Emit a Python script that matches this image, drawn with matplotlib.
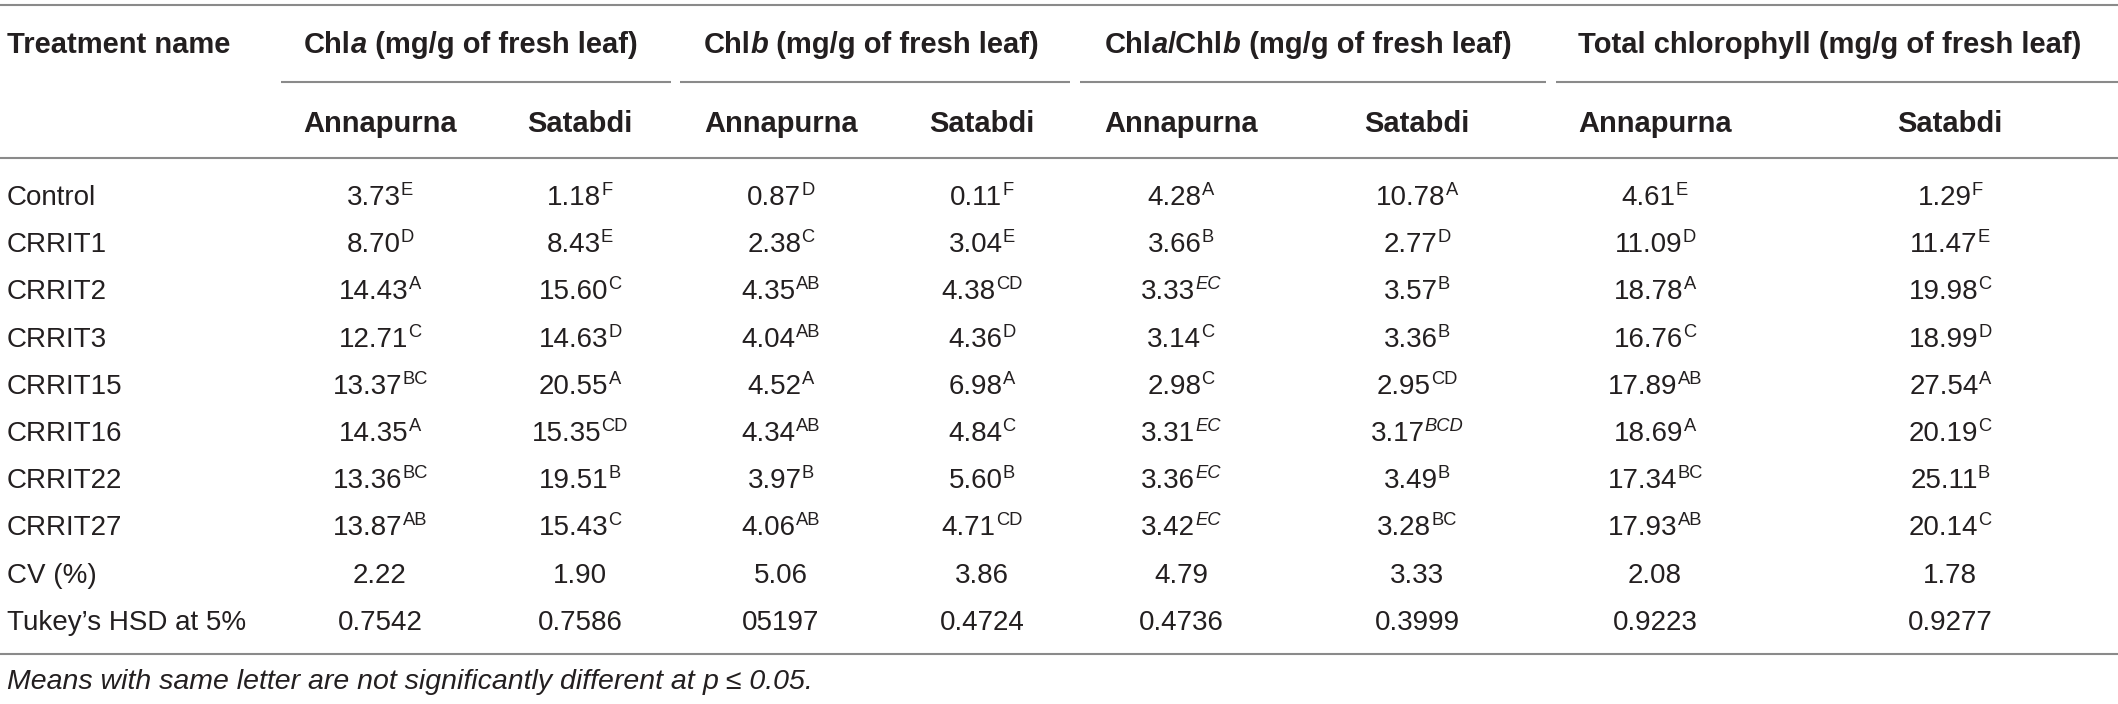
import matplotlib
matplotlib.use("Agg")
import matplotlib.pyplot as plt

# ---------------- data ----------------
treatments = ["Control", "CRRIT1", "CRRIT2", "CRRIT3", "CRRIT15", "CRRIT16",
              "CRRIT22", "CRRIT27", "CV (%)", "Tukey\u2019s HSD at 5%"]
varieties = ["Annapurna", "Satabdi"]

chla_annapurna = ["3.73", "8.70", "14.43", "12.71", "13.37", "14.35", "13.36", "13.87", "2.22", "0.7542"]
chla_annapurna_letters = ["E", "D", "A", "C", "BC", "A", "BC", "AB", "", ""]
chla_satabdi = ["1.18", "8.43", "15.60", "14.63", "20.55", "15.35", "19.51", "15.43", "1.90", "0.7586"]
chla_satabdi_letters = ["F", "E", "C", "D", "A", "CD", "B", "C", "", ""]

chlb_annapurna = ["0.87", "2.38", "4.35", "4.04", "4.52", "4.34", "3.97", "4.06", "5.06", "05197"]
chlb_annapurna_letters = ["D", "C", "AB", "AB", "A", "AB", "B", "AB", "", ""]
chlb_satabdi = ["0.11", "3.04", "4.38", "4.36", "6.98", "4.84", "5.60", "4.71", "3.86", "0.4724"]
chlb_satabdi_letters = ["F", "E", "CD", "D", "A", "C", "B", "CD", "", ""]

ratio_annapurna = ["4.28", "3.66", "3.33", "3.14", "2.98", "3.31", "3.36", "3.42", "4.79", "0.4736"]
ratio_annapurna_letters = ["A", "B", "EC", "C", "C", "EC", "EC", "EC", "", ""]
ratio_annapurna_italic = [False, False, True, False, False, True, True, True, False, False]
ratio_satabdi = ["10.78", "2.77", "3.57", "3.36", "2.95", "3.17", "3.49", "3.28", "3.33", "0.3999"]
ratio_satabdi_letters = ["A", "D", "B", "B", "CD", "BCD", "B", "BC", "", ""]
ratio_satabdi_italic = [False, False, False, False, False, True, False, False, False, False]

total_annapurna = ["4.61", "11.09", "18.78", "16.76", "17.89", "18.69", "17.34", "17.93", "2.08", "0.9223"]
total_annapurna_letters = ["E", "D", "A", "C", "AB", "A", "BC", "AB", "", ""]
total_satabdi = ["1.29", "11.47", "19.98", "18.99", "27.54", "20.19", "25.11", "20.14", "1.78", "0.9277"]
total_satabdi_letters = ["F", "E", "C", "D", "A", "C", "B", "C", "", ""]

footnote = "Means with same letter are not significantly different at "
no_italic = [False] * len(treatments)

columns = [
    (chla_annapurna, chla_annapurna_letters, no_italic),
    (chla_satabdi, chla_satabdi_letters, no_italic),
    (chlb_annapurna, chlb_annapurna_letters, no_italic),
    (chlb_satabdi, chlb_satabdi_letters, no_italic),
    (ratio_annapurna, ratio_annapurna_letters, ratio_annapurna_italic),
    (ratio_satabdi, ratio_satabdi_letters, ratio_satabdi_italic),
    (total_annapurna, total_annapurna_letters, no_italic),
    (total_satabdi, total_satabdi_letters, no_italic),
]

# ---------------- layout / style ----------------
W, H = 2118, 704
FONT = "Liberation Sans"
TXT = "#231f20"
LINE = "#8a8a8a"
FS = 20.0          # body
FSH = 21.0         # bold headers
FSF = 20.5         # footnote
SUP = FS * 0.66
col_x = [380, 580, 781, 982, 1181, 1417, 1655, 1950]
group_x = [471, 871, 1308, 1830]
group_lines = [(281, 671), (680, 1070), (1080, 1546), (1556, W)]
y_head, y_sub = 43, 122
row_y0, row_dy = 195, 47.2
y_foot = 679

plt.rcParams["font.family"] = [FONT, "DejaVu Sans"]
fig = plt.figure(figsize=(W / 100, H / 100), dpi=100)
ax = fig.add_axes([0, 0, 1, 1])
ax.set_xlim(0, W)
ax.set_ylim(H, 0)
ax.axis("off")
renderer = fig.canvas.get_renderer()


def cap_px(fs):
    return 0.716 * fs * 100 / 72.0


def put(parts, x, yc, fs, ha="center"):
    objs = []
    total = 0.0
    for s, props, rise in parts:
        t = ax.text(0, 0, s, va="baseline", ha="left", color=TXT, **props)
        w = t.get_window_extent(renderer).width
        objs.append((t, rise, w))
        total += w
    x0 = x - total / 2.0 if ha == "center" else x
    yb = yc + cap_px(fs) / 2.0
    for t, rise, w in objs:
        t.set_position((x0, yb - rise))
        x0 += w


B = dict(fontsize=FSH, fontweight="bold")
BI = dict(fontsize=FSH, fontweight="bold", fontstyle="italic")
R = dict(fontsize=FS)
FI = dict(fontsize=FSF, fontstyle="italic")
S = dict(fontsize=SUP)
SI = dict(fontsize=SUP, fontstyle="italic")
rise = cap_px(FS) * 0.50

# rules
ax.hlines([5, 158, 654], 0, W, color=LINE, lw=1.5)
for x0, x1 in group_lines:
    ax.hlines(82, x0, x1, color=LINE, lw=1.5)

# header row 1
put([("Treatment name", B, 0)], 7, y_head, FSH, ha="left")
put([("Chl", B, 0), ("a", BI, 0), (" (mg/g of fresh leaf)", B, 0)], group_x[0], y_head, FSH)
put([("Chl", B, 0), ("b", BI, 0), (" (mg/g of fresh leaf)", B, 0)], group_x[1], y_head, FSH)
put([("Chl", B, 0), ("a", BI, 0), ("/Chl", B, 0), ("b", BI, 0),
     (" (mg/g of fresh leaf)", B, 0)], group_x[2], y_head, FSH)
put([("Total chlorophyll (mg/g of fresh leaf)", B, 0)], group_x[3], y_head, FSH)

# header row 2
for i, cx in enumerate(col_x):
    put([(varieties[i % 2], B, 0)], cx, y_sub, FSH)

# body
for r, name in enumerate(treatments):
    yc = row_y0 + r * row_dy
    put([(name, R, 0)], 7, yc, FS, ha="left")
    for cx, (vals, lets, ital) in zip(col_x, columns):
        parts = [(vals[r], R, 0)]
        if lets[r]:
            parts.append((lets[r], SI if ital[r] else S, rise))
        put(parts, cx, yc, FS)

# footnote
put([(footnote, FI, 0), ("p", FI, 0), (" \u2264 0.05.", FI, 0)], 7, y_foot, FSF, ha="left")

fig.savefig("out.png", dpi=100)
